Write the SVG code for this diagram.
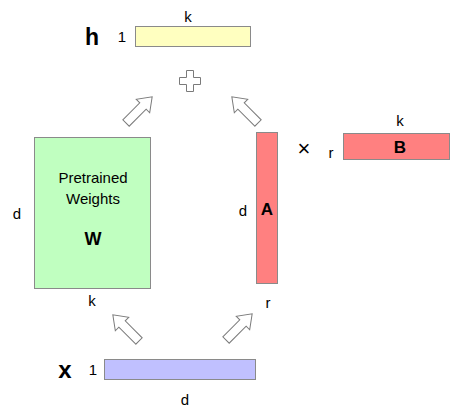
<svg xmlns="http://www.w3.org/2000/svg" width="451" height="408" viewBox="0 0 451 408">
<defs>
<style>
.box{stroke:#8a8a8a;stroke-width:1}
.t{font-family:"Liberation Sans",Arial,sans-serif;font-size:15px;fill:#000;text-anchor:middle}
.b{font-family:"Liberation Sans",Arial,sans-serif;font-weight:bold;fill:#000;text-anchor:middle}
.arr{fill:#fff;stroke:#7a7a7a;stroke-width:1;stroke-linejoin:miter}
</style>
<polygon id="blk" points="0,-4.5 24,-4.5 24,-9.5 37,0 24,9.5 24,4.5 0,4.5"/>
</defs>
<rect width="451" height="408" fill="#fff"/>
<g id="h">
<rect class="box" x="135.5" y="26.5" width="115" height="20" fill="#ffffc0"/>
<text class="t" x="188" y="22">k</text>
<text class="t" x="122" y="42">1</text>
<text class="b" x="92" y="45" font-size="23">h</text>
</g>
<g id="x">
<rect class="box" x="104.5" y="359.5" width="151" height="20" fill="#c0c0ff"/>
<text class="t" x="93" y="375">1</text>
<text class="b" x="65" y="378" font-size="24">x</text>
<text class="t" x="185" y="405">d</text>
</g>
<g id="W">
<rect class="box" x="34.5" y="137.5" width="116" height="151" fill="#c0ffc0"/>
<text class="t" x="93" y="183">Pretrained</text>
<text class="t" x="93" y="204">Weights</text>
<text class="b" x="93" y="245" font-size="18">W</text>
<text class="t" x="17" y="219">d</text>
<text class="t" x="92" y="306">k</text>
</g>
<g id="A">
<rect class="box" x="256.5" y="132.5" width="21" height="151" fill="#ff8080"/>
<text class="b" x="267" y="215" font-size="17">A</text>
<text class="t" x="243" y="216">d</text>
<text class="t" x="268" y="308">r</text>
</g>
<g id="B">
<rect class="box" x="343.5" y="133.5" width="106" height="26" fill="#ff8080"/>
<text class="b" x="400" y="153" font-size="17">B</text>
<text class="t" x="400" y="126">k</text>
<text class="t" x="331" y="158">r</text>
<text class="t" x="304" y="156" style="font-size:22px">×</text>
</g>
<g id="plus">
<polygon class="arr" points="186.5,70.5 193.5,70.5 193.5,77.5 200.5,77.5 200.5,84.5 193.5,84.5 193.5,91.5 186.5,91.5 186.5,84.5 179.5,84.5 179.5,77.5 186.5,77.5"/>
</g>
<g id="connectors">
<use href="#blk" class="arr" transform="translate(126,123) rotate(-45)"/>
<use href="#blk" class="arr" transform="translate(258,123) rotate(-135)"/>
<use href="#blk" class="arr" transform="translate(139,341) rotate(-135)"/>
<use href="#blk" class="arr" transform="translate(226,340) rotate(-45)"/>
</g>
</svg>
